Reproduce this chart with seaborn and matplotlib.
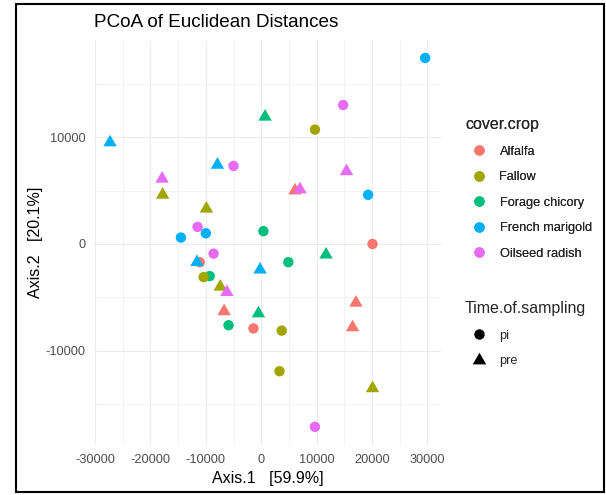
import matplotlib
matplotlib.use("Agg")
import matplotlib.pyplot as plt
from matplotlib.lines import Line2D
from matplotlib.patches import Rectangle
from matplotlib.path import Path
import pandas as pd
import seaborn as sns

# Groups and their colours (ggplot hue palette)
crops = ["Alfalfa", "Fallow", "Forage chicory", "French marigold", "Oilseed radish"]
crop_colors = ["#F8766D", "#A3A500", "#00BF7D", "#00B0F6", "#E76BF3"]
times = ["pi", "pre"]

# Sample ordination scores (drawing order = row order)
cover_crop = (["Alfalfa"] * 7 + ["Forage chicory"] * 7 + ["Fallow"] * 8
              + ["French marigold"] * 8 + ["Oilseed radish"] * 9)
time_of_sampling = (["pi"] * 3 + ["pre"] * 4
                    + ["pi"] * 4 + ["pre"] * 3
                    + ["pi"] * 4 + ["pre"] * 4
                    + ["pi"] * 4 + ["pre"] * 4
                    + ["pi"] * 5 + ["pre"] * 4)
axis1 = [-11100, -1400, 20100, 6100, -6700, 17100, 16500,
         400, 4900, -9300, -5900, 700, 11700, -500,
         9700, -10400, 3700, 3300, -17800, -9900, -7400, 20100,
         29600, 19300, -14500, -10000, -27300, -7900, -11600, -200,
         14800, -5000, -11500, -8600, 9700, -17900, 15400, 7000, -6200]
axis2 = [-1700, -7900, 0, 5000, -6300, -5500, -7800,
         1200, -1700, -3000, -7600, 11900, -1000, -6500,
         10700, -3100, -8100, -11900, 4600, 3300, -4000, -13500,
         17400, 4600, 600, 1000, 9500, 7400, -1700, -2400,
         13000, 7300, 1600, -900, -17100, 6100, 6800, 5100, -4500]

x_ticks = [-30000, -20000, -10000, 0, 10000, 20000, 30000]
x_tick_labels = ["-30000", "-20000", "-10000", "0", "10000", "20000", "30000"]
x_minor = [-25000, -15000, -5000, 5000, 15000, 25000]
y_ticks = [-10000, 0, 10000]
y_tick_labels = ["-10000", "0", "10000"]
y_minor = [-15000, -5000, 5000, 15000]

df = pd.DataFrame({"Axis.1": axis1, "Axis.2": axis2,
                   "cover.crop": cover_crop,
                   "Time.of.sampling": time_of_sampling})

# Filled triangle centred on its centroid (like R's pch 17)
tri = Path([(0, 1.1547), (-1, -0.5774), (1, -0.5774), (0, 1.1547)],
           [Path.MOVETO, Path.LINETO, Path.LINETO, Path.CLOSEPOLY])

sns.set_style("white")
plt.rcParams["font.family"] = ["Liberation Sans", "DejaVu Sans"]
plt.rcParams["axes.unicode_minus"] = False

fig = plt.figure(figsize=(6.06, 4.95), dpi=100)
ax = fig.add_axes([94 / 606, 50 / 495, 347 / 606, 405 / 495])

sns.scatterplot(data=df, x="Axis.1", y="Axis.2",
                hue="cover.crop", hue_order=crops,
                palette=dict(zip(crops, crop_colors)),
                style="Time.of.sampling", style_order=times,
                markers={"pi": "o", "pre": tri},
                size="Time.of.sampling", size_order=times,
                sizes={"pi": 56, "pre": 125},
                linewidth=0, alpha=1, legend=False, ax=ax)

ax.set_xlim(-30190, 32460)
ax.set_ylim(-18800, 19080)
ax.set_xticks(x_ticks)
ax.set_xticklabels(x_tick_labels)
ax.set_xticks(x_minor, minor=True)
ax.set_yticks(y_ticks)
ax.set_yticklabels(y_tick_labels)
ax.set_yticks(y_minor, minor=True)
ax.grid(which="major", color="#EBEBEB", lw=0.8)
ax.grid(which="minor", color="#EBEBEB", lw=0.4)
ax.set_axisbelow(True)
for s in ax.spines.values():
    s.set_visible(False)
ax.tick_params(which="both", length=0, labelsize=9.2, labelcolor="#4D4D4D")
ax.tick_params(axis="x", pad=6.6)
ax.tick_params(axis="y", pad=6)

ax.set_title("PCoA of Euclidean Distances", loc="left", fontsize=13.6,
             pad=9.5, color="black")
ax.set_xlabel("Axis.1   [59.9%]", fontsize=11.5, labelpad=3.8, color="black")
ax.set_ylabel("Axis.2   [20.1%]", fontsize=11.5, labelpad=1.8, color="black")

# Legends
legend_kw = dict(loc="upper left", frameon=False, fontsize=9.2,
                 title_fontsize=11.5, alignment="left", borderpad=0,
                 borderaxespad=0, handlelength=2.2, handletextpad=0.5,
                 labelspacing=1.06)
crop_handles = [Line2D([], [], ls="", marker="o", markersize=7.5,
                       markerfacecolor=c, markeredgewidth=0)
                for c in crop_colors]
leg1 = fig.legend(crop_handles, crops, title="cover.crop",
                  bbox_to_anchor=(465 / 606, 1 - 117 / 495), **legend_kw)
time_handles = [Line2D([], [], ls="", marker="o", markersize=7.5,
                       markerfacecolor="black", markeredgewidth=0),
                Line2D([], [], ls="", marker=tri, markersize=11.2,
                       markerfacecolor="black", markeredgewidth=0)]
leg2 = fig.legend(time_handles, times, title="Time.of.sampling",
                  bbox_to_anchor=(465 / 606, 1 - 301 / 495), **legend_kw)
fig.add_artist(leg1)

# Outer frame
fig.patches.append(Rectangle((16 / 606, 3 / 495), 588 / 606, 488 / 495,
                             transform=fig.transFigure, fill=False,
                             edgecolor="black", lw=1.5))

fig.savefig("out.png", dpi=100)
